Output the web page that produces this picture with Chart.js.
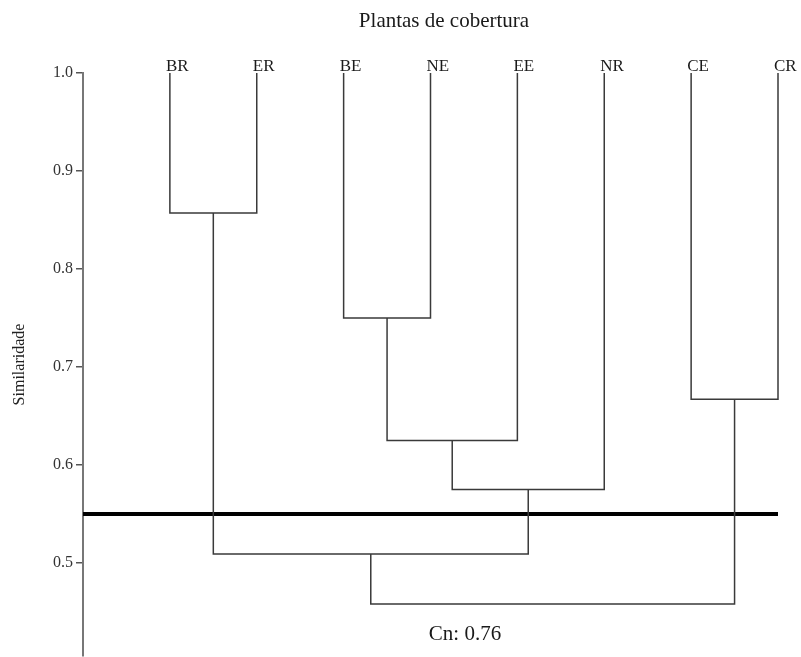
<!DOCTYPE html>
<html>
<head>
<meta charset="utf-8">
<title>Plantas de cobertura</title>
<script src="https://cdn.jsdelivr.net/npm/chart.js@4/dist/chart.umd.min.js"></script>
<style>
  html, body { margin: 0; padding: 0; background: #fff; overflow: hidden; }
  canvas { display: block; }
</style>
</head>
<body>
<canvas id="dendro" width="801" height="657"></canvas>
<script>
// leaves, left to right
const leaves = ["BR", "ER", "BE", "NE", "EE", "NR", "CE", "CR"];

// merges (linkage style: index < 8 is a leaf, >= 8 is merge n-8)
const mergeLeft   = [0, 2, 9, 6, 10, 8, 13];
const mergeRight  = [1, 3, 4, 7, 5, 12, 11];
const mergeHeight = [0.857, 0.75, 0.625, 0.667, 0.575, 0.509, 0.458];

const cutHeight = 0.55;
const copheneticCorr = 0.76;
const yTicks = [0.5, 0.6, 0.7, 0.8, 0.9, 1.0];

const serif = "'Liberation Serif', 'DejaVu Serif', serif";

// node positions: leaves at index, height 1.0
const nodeX = leaves.map((_, i) => i);
const nodeY = leaves.map(() => 1.0);
const links = [];
mergeHeight.forEach((h, k) => {
  const l = mergeLeft[k], r = mergeRight[k];
  links.push([
    { x: nodeX[l], y: nodeY[l] },
    { x: nodeX[l], y: h },
    { x: nodeX[r], y: h },
    { x: nodeX[r], y: nodeY[r] }
  ]);
  nodeX.push((nodeX[l] + nodeX[r]) / 2);
  nodeY.push(h);
});

const datasets = links.map(pts => ({
  data: pts,
  showLine: true,
  borderColor: "#3a3a3a",
  borderWidth: 1.5,
  pointRadius: 0,
  tension: 0,
  clip: false
}));

datasets.push({
  data: [{ x: -1, y: cutHeight }, { x: leaves.length - 1, y: cutHeight }],
  showLine: true,
  borderColor: "#000",
  borderWidth: 4,
  pointRadius: 0,
  borderCapStyle: "butt"
});

const textPlugin = {
  id: "texts",
  afterDraw(chart) {
    const { ctx, chartArea, scales } = chart;
    ctx.save();
    ctx.fillStyle = "#1a1a1a";

    ctx.font = "21px " + serif;
    ctx.textAlign = "center";
    ctx.textBaseline = "alphabetic";
    ctx.fillText("Plantas de cobertura", 444, 27);

    ctx.font = "17px " + serif;
    ctx.textAlign = "left";
    leaves.forEach((lab, i) => {
      ctx.fillText(lab, scales.x.getPixelForValue(i) - 4, chartArea.top - 2);
    });

    ctx.font = "21px " + serif;
    ctx.textAlign = "center";
    ctx.textBaseline = "middle";
    ctx.fillText("Cn: " + copheneticCorr.toFixed(2), 465, 634);
    ctx.restore();
  }
};

new Chart(document.getElementById("dendro"), {
  type: "scatter",
  data: { datasets },
  plugins: [textPlugin],
  options: {
    responsive: false,
    animation: false,
    layout: { padding: { top: 73, right: 23, bottom: 1, left: 0 } },
    plugins: {
      legend: { display: false },
      tooltip: { enabled: false }
    },
    scales: {
      x: {
        type: "linear",
        min: -1,
        max: leaves.length - 1,
        display: false
      },
      y: {
        type: "linear",
        min: 0.405,
        max: 1.0,
        afterBuildTicks: scale => { scale.ticks = yTicks.map(v => ({ value: v })); },
        afterFit: scale => {
          scale.width = 83;
          scale.paddingTop = 0;
          scale.paddingBottom = 0;
        },
        border: { display: true, color: "#777", width: 2 },
        grid: {
          drawOnChartArea: false,
          drawTicks: true,
          tickLength: 7,
          color: "#555",
          lineWidth: 1.5
        },
        ticks: {
          color: "#333",
          padding: 3,
          font: { family: serif, size: 16 },
          callback: v => v.toFixed(1)
        },
        title: {
          display: true,
          text: "Similaridade",
          color: "#222",
          font: { family: serif, size: 16 },
          padding: { top: 10, bottom: 0 }
        }
      }
    }
  }
});
</script>
</body>
</html>
